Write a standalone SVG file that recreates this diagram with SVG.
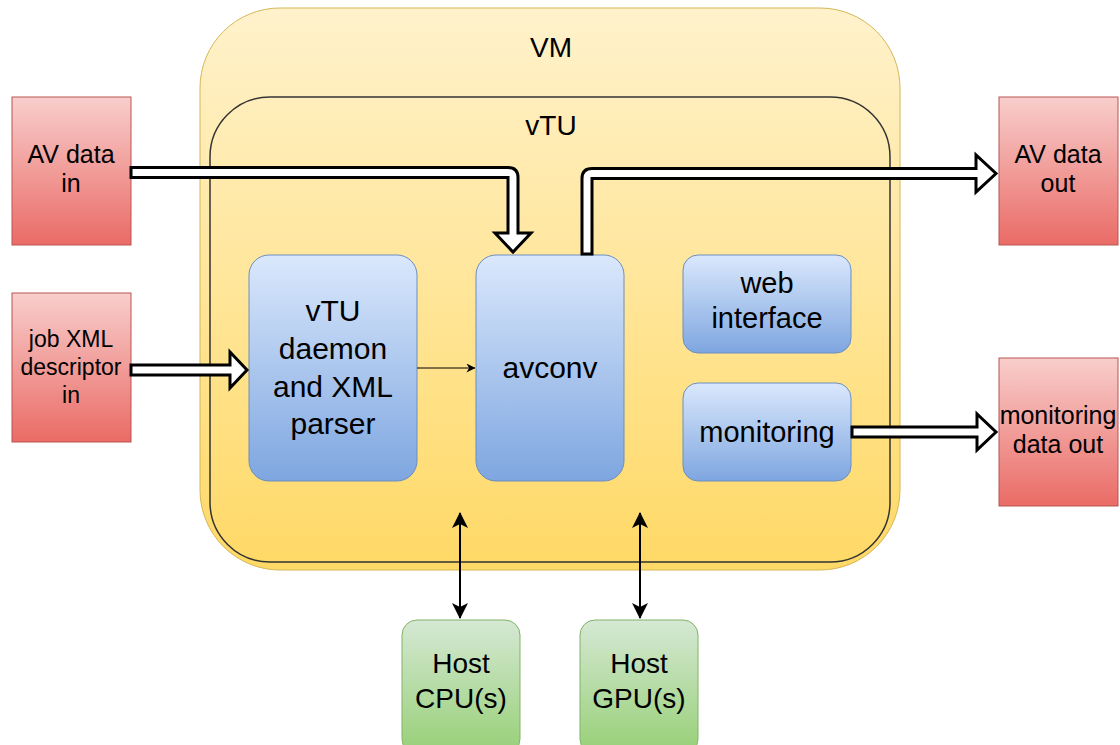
<svg xmlns="http://www.w3.org/2000/svg" width="1120" height="745" viewBox="0 0 1120 745">
  <defs>
    <linearGradient id="gYellow" x1="0" y1="0" x2="0" y2="1">
      <stop offset="0" stop-color="#fff2cc"/>
      <stop offset="1" stop-color="#ffd966"/>
    </linearGradient>
    <linearGradient id="gRed" x1="0" y1="0" x2="0" y2="1">
      <stop offset="0" stop-color="#f8cecc"/>
      <stop offset="1" stop-color="#ea6b66"/>
    </linearGradient>
    <linearGradient id="gBlue" x1="0" y1="0" x2="0" y2="1">
      <stop offset="0" stop-color="#dae8fc"/>
      <stop offset="1" stop-color="#7ea6e0"/>
    </linearGradient>
    <linearGradient id="gGreen" x1="0" y1="0" x2="0" y2="1">
      <stop offset="0" stop-color="#d5e8d4"/>
      <stop offset="1" stop-color="#97d077"/>
    </linearGradient>
    <marker id="mArrow" viewBox="0 0 16 16" refX="15" refY="8" markerWidth="16" markerHeight="16" markerUnits="userSpaceOnUse" orient="auto-start-reverse">
      <path d="M0,0 L16,8 L0,16 L4,8 Z" fill="#000"/>
    </marker>
    <marker id="mSmall" viewBox="0 0 10 10" refX="9.5" refY="5" markerWidth="9" markerHeight="9" markerUnits="userSpaceOnUse" orient="auto">
      <path d="M0,0 L10,5 L0,10 L3,5 Z" fill="#000"/>
    </marker>
  </defs>
  <style>
    text { font-family: "Liberation Sans", Arial, sans-serif; fill: #000; text-anchor: middle; }
    .red { fill: url(#gRed); stroke: #b85450; stroke-width: 1; }
    .blue { fill: url(#gBlue); stroke: #6c8ebf; stroke-width: 1; }
    .green { fill: url(#gGreen); stroke: #82b366; stroke-width: 1; }
    .flex { fill: #fff; stroke: #000; stroke-width: 3; stroke-linejoin: miter; }
    .t25 { font-size: 25px; }
    .t23 { font-size: 23px; }
    .t28 { font-size: 28px; }
    .t29 { font-size: 29px; }
    .t30 { font-size: 30px; }
  </style>

  <g id="vm">
    <rect x="200" y="8" width="700" height="562" rx="80" ry="80" fill="url(#gYellow)" stroke="#d6b656" stroke-width="1"/>
    <text class="t28" x="551" y="57">VM</text>
  </g>
  <g id="vtu">
    <rect x="210" y="97" width="680" height="465" rx="60" ry="60" fill="none" stroke="#333" stroke-width="1.5"/>
    <text class="t28" x="551" y="135">vTU</text>
  </g>

  <g id="av-data-in">
    <rect class="red" x="12" y="97" width="119" height="148"/>
    <text class="t25" x="71" y="163">AV data</text>
    <text class="t25" x="71" y="192">in</text>
  </g>
  <g id="job-xml-in">
    <rect class="red" x="12" y="293" width="119" height="149"/>
    <text class="t23" x="71" y="347">job XML</text>
    <text class="t23" x="71" y="375">descriptor</text>
    <text class="t23" x="71" y="403">in</text>
  </g>
  <g id="av-data-out">
    <rect class="red" x="999" y="97" width="119" height="148"/>
    <text class="t25" x="1058" y="163">AV data</text>
    <text class="t25" x="1058" y="192">out</text>
  </g>
  <g id="monitoring-data-out">
    <rect class="red" x="999" y="358" width="119" height="148"/>
    <text class="t25" x="1058" y="424">monitoring</text>
    <text class="t25" x="1058" y="453">data out</text>
  </g>

  <g id="vtu-daemon">
    <rect class="blue" x="249" y="255" width="168" height="226" rx="20" ry="20"/>
    <text class="t30" x="333" y="321">vTU</text>
    <text class="t30" x="333" y="359">daemon</text>
    <text class="t30" x="333" y="397">and XML</text>
    <text class="t30" x="333" y="434">parser</text>
  </g>
  <g id="avconv">
    <rect class="blue" x="476" y="255" width="148" height="226" rx="20" ry="20"/>
    <text class="t30" x="550" y="378">avconv</text>
  </g>
  <g id="web-interface">
    <rect class="blue" x="683" y="255" width="168" height="98" rx="15" ry="15"/>
    <text class="t29" x="767" y="293">web</text>
    <text class="t29" x="767" y="328">interface</text>
  </g>
  <g id="monitoring">
    <rect class="blue" x="683" y="383" width="168" height="98" rx="15" ry="15"/>
    <text class="t29" x="767" y="442">monitoring</text>
  </g>

  <g id="host-cpu">
    <rect class="green" x="402" y="620" width="118" height="134" rx="15" ry="15"/>
    <text class="t28" x="461" y="673">Host</text>
    <text class="t28" x="461" y="708">CPU(s)</text>
  </g>
  <g id="host-gpu">
    <rect class="green" x="580" y="620" width="118" height="134" rx="15" ry="15"/>
    <text class="t28" x="639" y="673">Host</text>
    <text class="t28" x="639" y="708">GPU(s)</text>
  </g>

  <g id="connectors">
    <path class="flex" d="M131,167.5 H508 Q518,167.5 518,177.5 V233 H531 L513,252 L495,233 H508 V177.5 H131 Z"/>
    <path class="flex" d="M582,254 V178.5 Q582,168.5 592,168.5 H976 V155 L996,173.5 L976,192 V178.5 H592 V254 Z"/>
    <path class="flex" d="M131,365 H230 V352 L247,370 L230,388 V375 H131 Z"/>
    <path class="flex" d="M852,427 H977 V414 L996,432 L977,450 V437 H852 Z"/>
    <line x1="417" y1="368" x2="475" y2="368" stroke="#000" stroke-width="1" marker-end="url(#mSmall)"/>
    <line x1="460" y1="513" x2="460" y2="618" stroke="#000" stroke-width="2" marker-start="url(#mArrow)" marker-end="url(#mArrow)"/>
    <line x1="640" y1="513" x2="640" y2="618" stroke="#000" stroke-width="2" marker-start="url(#mArrow)" marker-end="url(#mArrow)"/>
  </g>
</svg>
